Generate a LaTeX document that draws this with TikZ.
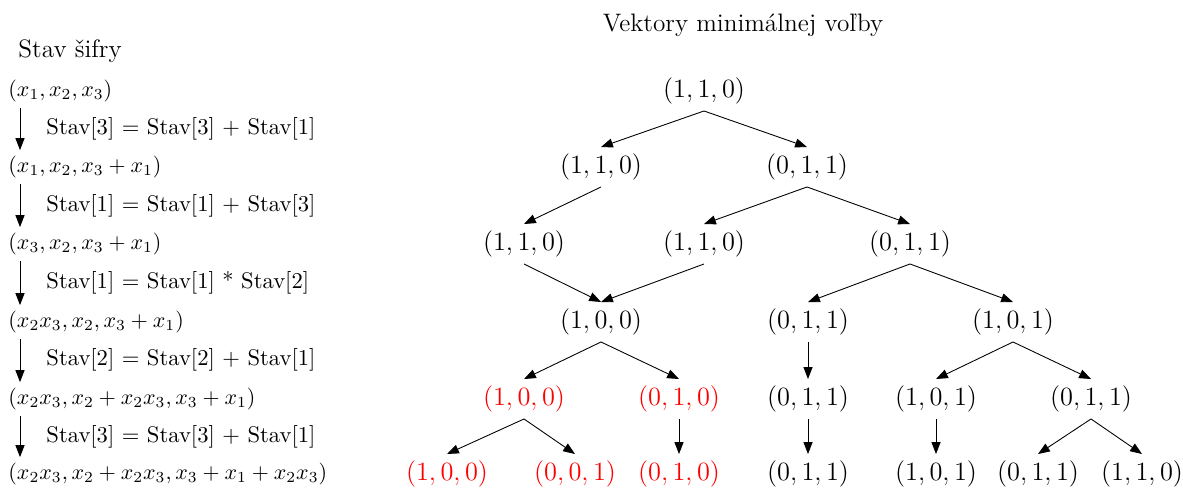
\documentclass[tikz,border=0pt]{standalone}
\usepackage{fontspec}
\usetikzlibrary{arrows.meta}

\tikzset{
  arr/.style={thin,-{Triangle[length=5.4pt,width=4.1pt]}},
  big/.style={font=\fontsize{11.5}{14}\selectfont},
  vec/.style={big, inner xsep=1pt, inner ysep=2.9pt},
  sel/.style={vec, text=red},
  state/.style={anchor=west, inner xsep=0pt, inner ysep=2.5pt},
  oper/.style={anchor=west, inner sep=0pt, font=\fontsize{10.3}{12}\selectfont},
}

\begin{document}
\begin{tikzpicture}[x=0.016cm,y=-0.016cm]
\useasboundingbox (0,0) rectangle (1183,491);

%headings
\node[big, anchor=base west, inner sep=0pt] (H1) at (18,58) {Stav šifry};
\node[big, anchor=base, inner sep=0pt] (H2) at (743,32) {Vektory minimálnej voľby};

%cipher states
\node[state] (S0) at (8,91)  {$(x_1, x_2, x_3)$};
\node[state] (S1) at (8,167) {$(x_1, x_2, x_3 + x_1)$};
\node[state] (S2) at (8,244) {$(x_3, x_2, x_3 + x_1)$};
\node[state] (S3) at (8,322) {$(x_2x_3, x_2, x_3 + x_1)$};
\node[state] (S4) at (8,399) {$(x_2x_3, x_2 + x_2x_3, x_3 + x_1)$};
\node[state] (S5) at (8,474) {$(x_2x_3, x_2 + x_2x_3, x_3 + x_1 + x_2x_3)$};

%operations
\node[oper] (T1) at (46,129) {Stav[3] = Stav[3] + Stav[1]};
\node[oper] (T2) at (46,206) {Stav[1] = Stav[1] + Stav[3]};
\node[oper] (T3) at (46,283) {Stav[1] = Stav[1] * Stav[2]};
\node[oper] (T4) at (46,360) {Stav[2] = Stav[2] + Stav[1]};
\node[oper] (T5) at (46,437) {Stav[3] = Stav[3] + Stav[1]};

\coordinate (ax) at (20,0);
\draw[arr] (S0.south -| ax) -- (S1.north -| ax);
\draw[arr] (S1.south -| ax) -- (S2.north -| ax);
\draw[arr] (S2.south -| ax) -- (S3.north -| ax);
\draw[arr] (S3.south -| ax) -- (S4.north -| ax);
\draw[arr] (S4.south -| ax) -- (S5.north -| ax);

%vectors of minimal choice
\node[vec] (A)  at (704,91)  {$(1,1,0)$};

\node[vec] (B1) at (601,167) {$(1,1,0)$};
\node[vec] (B2) at (807,167) {$(0,1,1)$};

\node[vec] (C1) at (524,244) {$(1,1,0)$};
\node[vec] (C2) at (704,244) {$(1,1,0)$};
\node[vec] (C3) at (910,244) {$(0,1,1)$};

\node[vec] (D1) at (601,322) {$(1,0,0)$};
\node[vec] (D2) at (808,322) {$(0,1,1)$};
\node[vec] (D3) at (1013,322) {$(1,0,1)$};

\node[sel] (E1) at (524,399) {$(1,0,0)$};
\node[sel] (E2) at (679,399) {$(0,1,0)$};
\node[vec] (E3) at (808,399) {$(0,1,1)$};
\node[vec] (E4) at (936,399) {$(1,0,1)$};
\node[vec] (E5) at (1091,399) {$(0,1,1)$};

\node[sel] (F1) at (447,474) {$(1,0,0)$};
\node[sel] (F2) at (575,474) {$(0,0,1)$};
\node[sel] (F3) at (679,474) {$(0,1,0)$};
\node[vec] (F4) at (808,474) {$(0,1,1)$};
\node[vec] (F5) at (936,474) {$(1,0,1)$};
\node[vec] (F6) at (1038,474) {$(0,1,1)$};
\node[vec] (F7) at (1142,474) {$(1,1,0)$};

%edges
\draw[arr] (A.south) -- (B1.north);
\draw[arr] (A.south) -- (B2.north);

\draw[arr] (B1.south) -- (C1.north);
\draw[arr] (B2.south) -- (C2.north);
\draw[arr] (B2.south) -- (C3.north);

\draw[arr] (C1.south) -- (D1.north);
\draw[arr] (C2.south) -- (D1.north);
\draw[arr] (C3.south) -- (D2.north);
\draw[arr] (C3.south) -- (D3.north);

\draw[arr] (D1.south) -- (E1.north);
\draw[arr] (D1.south) -- (E2.north);
\draw[arr] (D2.south) -- (E3.north);
\draw[arr] (D3.south) -- (E4.north);
\draw[arr] (D3.south) -- (E5.north);

\draw[arr] (E1.south) -- (F1.north);
\draw[arr] (E1.south) -- (F2.north);
\draw[arr] (E2.south) -- (F3.north);
\draw[arr] (E3.south) -- (F4.north);
\draw[arr] (E4.south) -- (F5.north);
\draw[arr] (E5.south) -- (F6.north);
\draw[arr] (E5.south) -- (F7.north);
\end{tikzpicture}
\end{document}
